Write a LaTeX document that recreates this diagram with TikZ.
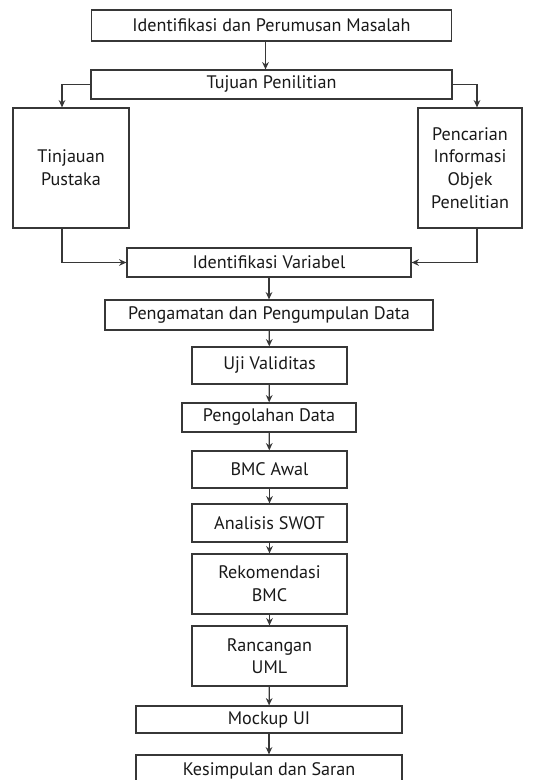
\documentclass[tikz,border=0pt]{standalone}
\usepackage{fontspec}
\setmainfont{PT Sans}
\usetikzlibrary{arrows.meta,calc}
\definecolor{edge}{RGB}{55,55,55}
\definecolor{ink}{RGB}{25,25,25}
\begin{document}
\begin{tikzpicture}[x=0.75pt,y=-0.75pt,
  box/.style 2 args={draw=edge, line width=0.9pt, fill=white, text=ink,
    align=center, inner sep=0pt,
    minimum width=#1*0.75pt, minimum height=#2*0.75pt,
    font=\fontsize{13.6}{17}\selectfont},
  arr/.style={draw=edge, line width=0.9pt, -{Stealth[length=5.5pt,width=5pt]}}]
\useasboundingbox (0,0) rectangle (533,780);

% boxes, top to bottom
\node[box={360}{31}] (b1) at (271.5,25.5) {Identifikasi dan Perumusan Masalah};
\node[box={361}{29}] (b2) at (271.5,84.5) {Tujuan Penilitian};
\node[box={116}{120}] (tl) at (71,168) {Tinjauan\\Pustaka};
\node[box={104}{120}] (tr) at (470,168) {Pencarian\\Informasi\\Objek\\Penelitian};
\node[box={284}{29}] (iv) at (269,262.5) {Identifikasi Variabel};
\node[box={328}{30}] (pd) at (269,315) {Pengamatan dan Pengumpulan Data};
\node[box={155}{37}] (uji) at (269.5,365.5) {Uji Validitas};
\node[box={174}{29}] (olah) at (269,417.5) {Pengolahan Data};
\node[box={155}{37}] (bmc) at (269.5,469.5) {BMC Awal};
\node[box={155}{38}] (swot) at (269.5,523) {Analisis SWOT};
\node[box={155}{60}] (rek) at (269.5,584) {Rekomendasi\\BMC};
\node[box={155}{60}] (uml) at (269.5,656) {Rancangan\\UML};
\node[box={266}{27}] (mock) at (269,719.5) {Mockup UI};
\node[box={266}{32}] (kes) at (269,771) {Kesimpulan dan Saran};

% connectors
\draw[arr] ($(b1.south)+(-6,0)$) -- ($(b2.north)+(-6,0)$);
\draw[arr] (b2.west) -| ($(tl.north)+(-9,0)$);
\draw[arr] (b2.east) -| ($(tr.north)+(7,0)$);
\draw[arr] ($(tl.south)+(-9,0)$) |- (iv.west);
\draw[arr] ($(tr.south)+(7,0)$) |- (iv.east);
\draw[arr] (iv) -- (pd);
\draw[arr] (pd) -- (uji);
\draw[arr] (uji) -- (olah);
\draw[arr] (olah) -- (bmc);
\draw[arr] (bmc) -- (swot);
\draw[arr] (swot) -- (rek);
\draw[arr] (rek) -- (uml);
\draw[arr] (uml) -- (mock);
\draw[arr] (mock) -- (kes);
\end{tikzpicture}
\end{document}
